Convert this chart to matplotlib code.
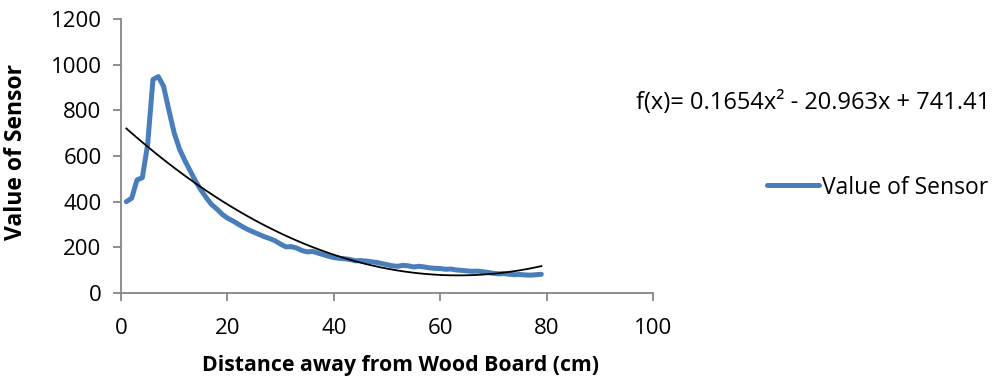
import matplotlib
matplotlib.use("Agg")
import matplotlib.pyplot as plt
import numpy as np

# sensor readings (distance in cm)
distance = np.arange(1, 80)
sensor = [400, 415, 495, 505, 650, 935, 948, 905, 800, 700,
          630, 580, 535, 490, 452, 418, 388, 368, 345, 328,
          316, 302, 288, 276, 266, 256, 246, 238, 228, 214,
          202, 203, 197, 186, 180, 182, 175, 168, 161, 155,
          152, 150, 147, 141, 142, 140, 137, 134, 129, 124,
          119, 117, 121, 119, 114, 117, 114, 110, 108, 107,
          104, 105, 101, 99, 97, 95, 96, 93, 90, 86,
          84, 85, 82, 80, 81, 79, 78, 80, 82]

# trendline coefficients shown on the chart
trend_coef = [0.1654, -20.963, 741.41]
trend_label = "f(x)= 0.1654x² - 20.963x + 741.41"

plt.rcParams['font.family'] = ['Open Sans', 'DejaVu Sans']

fig = plt.figure(figsize=(9.97, 3.84), dpi=100)
ax = fig.add_axes([0.1214, 0.237, 0.5336, 0.7135])

ax.plot(distance, sensor, color='#4a7ebb', lw=3.6, solid_joinstyle='round',
        solid_capstyle='round', label='Value of Sensor', zorder=2)
ax.plot(distance, np.polyval(trend_coef, distance), color='black', lw=1.3, zorder=3)

ax.set_xlim(0, 100)
ax.set_ylim(0, 1200)
ax.set_xticks(range(0, 101, 20))
ax.set_yticks(range(0, 1201, 200))

for side in ['top', 'right']:
    ax.spines[side].set_visible(False)
for side in ['left', 'bottom']:
    ax.spines[side].set_color('#868686')
    ax.spines[side].set_linewidth(1.3)
ax.tick_params(axis='both', colors='#868686', length=6, width=1.3,
               labelcolor='black', labelsize=16)
ax.tick_params(axis='x', pad=12)
ax.tick_params(axis='y', pad=8)

ax.set_xlabel('Distance away from Wood Board (cm)', fontsize=15.3, fontweight='bold')
ax.xaxis.set_label_coords(0.526, -0.225)
ax.set_ylabel('Value of Sensor', fontsize=16.5, fontweight='bold')
ax.yaxis.set_label_coords(-0.175, 0.515)

fig.text(0.8155, 0.732, trend_label, fontsize=17, ha='center', va='center')

ax.legend(loc='center left', bbox_to_anchor=(1.175, 0.385), frameon=False,
          fontsize=16.5, handlelength=2.3, handletextpad=0.1)

fig.savefig('out.png', dpi=100)
